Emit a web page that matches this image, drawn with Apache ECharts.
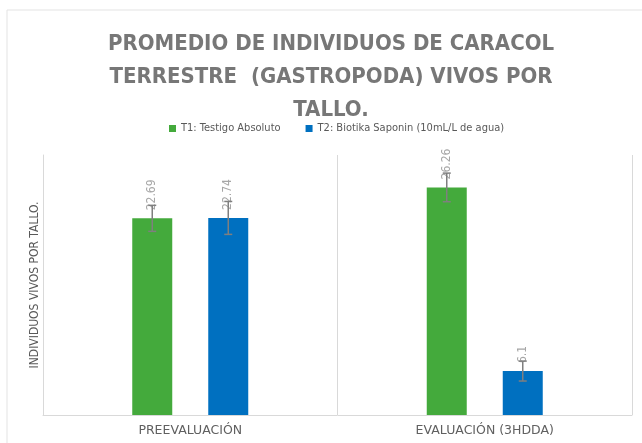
<!DOCTYPE html>
<html>
<head>
<meta charset="utf-8">
<script src="https://cdn.jsdelivr.net/npm/echarts@6/dist/echarts.min.js"></script>
<style>
  html, body { margin: 0; padding: 0; background: #fff; }
  #chart { width: 642px; height: 443px; }
</style>
</head>
<body>
<div id="chart"></div>
<script>
// datos
const categories = ['PREEVALUACIÓN', 'EVALUACIÓN (3HDDA)'];
const seriesNames = ['T1: Testigo Absoluto', 'T2: Biotika Saponin (10mL/L de agua)'];
const t1Values = [22.69, 26.26];
const t2Values = [22.74, 5.07];
const t1Labels = ['22.69', '26.26'];
const t2Labels = ['22.74', '6.1'];
const t1Errors = [1.5, 1.65];
const t2Errors = [1.9, 1.15];

const GREEN = '#44AA3C';
const BLUE = '#0070C0';
const NARROW = '"Liberation Sans Narrow", "DejaVu Sans Condensed", "Liberation Sans", sans-serif';
const BAR_W = 40;
const BAR_GAP = 36;

const chart = echarts.init(document.getElementById('chart'), null, { renderer: 'canvas' });

// barras de error dibujadas con serie custom, desplazadas como las barras
const errorSeries = (values, errors, sign) => ({
    type: 'custom',
    z: 5,
    silent: true,
    data: values.map((v, i) => [i, v, errors[i]]),
    renderItem: (params, api) => {
        const off = sign * (BAR_W + BAR_GAP) / 2;
        const hi = api.coord([api.value(0), api.value(1) + api.value(2)]);
        const lo = api.coord([api.value(0), api.value(1) - api.value(2)]);
        const x = hi[0] + off;
        const cap = 4;
        const style = { stroke: '#7f7f7f', lineWidth: 1.5 };
        return {
            type: 'group',
            children: [
                { type: 'line', shape: { x1: x, y1: hi[1], x2: x, y2: lo[1] }, style },
                { type: 'line', shape: { x1: x - cap, y1: hi[1], x2: x + cap, y2: hi[1] }, style },
                { type: 'line', shape: { x1: x - cap, y1: lo[1], x2: x + cap, y2: lo[1] }, style }
            ]
        };
    }
});

const barLabel = (texts) => ({
    show: true,
    position: 'top',
    distance: 8,
    rotate: 90,
    align: 'left',
    verticalAlign: 'middle',
    color: '#a6a6a6',
    fontSize: 12,
    fontFamily: NARROW,
    formatter: (p) => texts[p.dataIndex]
});

const option = {
    animation: false,
    backgroundColor: '#fff',
    graphic: [{
        type: 'rect',
        shape: { x: 7, y: 10, width: 640, height: 440 },
        style: { fill: 'none', stroke: '#e3e3e3', lineWidth: 1 },
        silent: true,
        z: -1
    }],
    title: {
        text: 'PROMEDIO DE INDIVIDUOS DE CARACOL\nTERRESTRE  (GASTROPODA) VIVOS POR\nTALLO.',
        left: 326,
        top: 23,
        textAlign: 'center',
        textStyle: {
            color: '#777777',
            fontSize: 22,
            fontWeight: 'bold',
            fontFamily: NARROW,
            lineHeight: 33
        }
    },
    legend: {
        top: 118,
        left: 164,
        icon: 'rect',
        itemWidth: 7,
        itemHeight: 7,
        itemGap: 25,
        textStyle: { color: '#595959', fontSize: 11, fontFamily: NARROW },
        data: seriesNames
    },
    grid: { left: 43, right: 10, top: 155, bottom: 28 },
    xAxis: {
        type: 'category',
        data: categories,
        axisLine: { lineStyle: { color: '#d9d9d9' } },
        axisTick: { show: false },
        splitLine: { show: true, lineStyle: { color: '#d9d9d9' } },
        axisLabel: { color: '#606060', fontSize: 12.5, fontFamily: '"DejaVu Sans", sans-serif', margin: 9 }
    },
    yAxis: {
        type: 'value',
        min: 0,
        max: 30,
        name: 'INDIVIDUOS VIVOS POR TALLO.',
        nameLocation: 'middle',
        nameGap: 2,
        nameTextStyle: { color: '#595959', fontSize: 12, fontFamily: NARROW },
        axisLine: { show: true, lineStyle: { color: '#d9d9d9' } },
        axisTick: { show: false },
        axisLabel: { show: false },
        splitLine: { show: false }
    },
    series: [
        {
            name: seriesNames[0],
            type: 'bar',
            data: t1Values,
            barWidth: BAR_W,
            barGap: (BAR_GAP / BAR_W * 100) + '%',
            itemStyle: { color: GREEN },
            label: barLabel(t1Labels),
            z: 2
        },
        {
            name: seriesNames[1],
            type: 'bar',
            data: t2Values,
            barWidth: BAR_W,
            itemStyle: { color: BLUE },
            label: barLabel(t2Labels),
            z: 2
        },
        errorSeries(t1Values, t1Errors, -1),
        errorSeries(t2Values, t2Errors, 1)
    ]
};

chart.setOption(option);
</script>
</body>
</html>
